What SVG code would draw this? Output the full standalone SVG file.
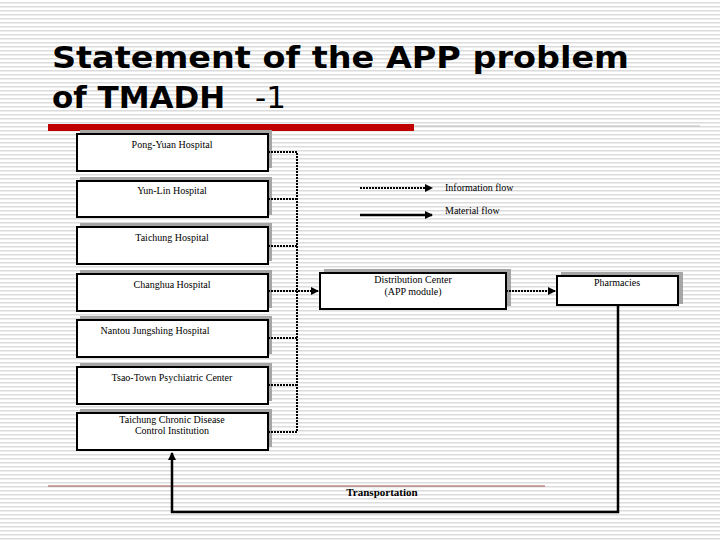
<svg xmlns="http://www.w3.org/2000/svg" width="720" height="540" viewBox="0 0 720 540">
<defs>
<pattern id="stripes" width="4" height="4" patternUnits="userSpaceOnUse"><rect width="4" height="4" fill="#fff"/><rect y="2" width="4" height="1.5" fill="#dcdcdc"/></pattern>
<marker id="ah" markerWidth="8" markerHeight="8" refX="7" refY="4" orient="auto" markerUnits="userSpaceOnUse"><path d="M0,0 L8,4 L0,8 Z" fill="#000"/></marker>
</defs>
<style>
.sh{fill:#a6a6a6}
.bx{fill:#fff;stroke:#000;stroke-width:2}
.t{font-family:"Liberation Serif",serif;font-size:10px;fill:#000;text-anchor:middle}
.dot{fill:none;stroke:#000;stroke-width:2;stroke-dasharray:2,1}
.sol{fill:none;stroke:#000;stroke-width:2.5}
</style>
<rect width="720" height="540" fill="url(#stripes)"/>
<text x="52" y="68" font-family="DejaVu Sans,sans-serif" font-weight="bold" font-size="31" fill="#000" textLength="577" lengthAdjust="spacingAndGlyphs">Statement of the APP problem</text>
<text x="52" y="108" font-family="DejaVu Sans,sans-serif" font-size="31" fill="#000"><tspan font-weight="bold">of TMADH </tspan><tspan x="255">-1</tspan></text>
<rect x="48" y="124" width="366" height="7" fill="#c00000"/>
<line x1="414" y1="126" x2="700" y2="126" stroke="#bbb" stroke-width="1"/>
<line x1="48" y1="486" x2="545" y2="486" stroke="#a05050" stroke-width="1"/>

<g id="n1"><rect class="sh" x="80" y="130" width="192" height="38"/><rect class="bx" x="77" y="134" width="191" height="37"/><text class="t" x="172" y="148">Pong-Yuan Hospital</text></g>
<g id="n2"><rect class="sh" x="80" y="177" width="192" height="38"/><rect class="bx" x="77" y="181" width="191" height="36"/><text class="t" x="172" y="194">Yun-Lin Hospital</text></g>
<g id="n3"><rect class="sh" x="80" y="223" width="192" height="38"/><rect class="bx" x="77" y="227" width="191" height="37"/><text class="t" x="172" y="241">Taichung Hospital</text></g>
<g id="n4"><rect class="sh" x="80" y="270" width="192" height="38"/><rect class="bx" x="77" y="274" width="191" height="37"/><text class="t" x="172" y="288">Changhua Hospital</text></g>
<g id="n5"><rect class="sh" x="80" y="316" width="192" height="38"/><rect class="bx" x="77" y="320" width="191" height="37"/><text class="t" x="155" y="334">Nantou Jungshing Hospital</text></g>
<g id="n6"><rect class="sh" x="80" y="363" width="192" height="38"/><rect class="bx" x="77" y="367" width="191" height="37"/><text class="t" x="172" y="381">Tsao-Town Psychiatric Center</text></g>
<g id="n7"><rect class="sh" x="80" y="409" width="192" height="38"/><rect class="bx" x="77" y="413" width="191" height="37"/><text class="t" x="172" y="423">Taichung Chronic Disease</text><text class="t" x="172" y="434">Control Institution</text></g>
<g id="dc"><rect class="sh" x="324" y="269" width="187" height="37"/><rect class="bx" x="320" y="273" width="186" height="36"/><text class="t" x="413" y="283">Distribution Center</text><text class="t" x="413" y="295">(APP module)</text></g>
<g id="ph"><rect class="sh" x="561" y="272" width="122" height="32"/><rect class="bx" x="557" y="276" width="121" height="29"/><text class="t" x="617" y="286">Pharmacies</text></g>

<g id="legend">
<line class="dot" x1="360" y1="188" x2="432" y2="188" marker-end="url(#ah)"/>
<line class="sol" x1="360" y1="215" x2="432" y2="215" marker-end="url(#ah)"/>
<text class="t" x="445" y="191" style="text-anchor:start">Information flow</text>
<text class="t" x="445" y="214" style="text-anchor:start">Material flow</text>
</g>

<g id="connectors">
<path class="dot" d="M268,152 H297 V432 M268,199 H297 M268,246 H297 M268,338 H297 M268,385 H297 M268,432 H297"/>
<line class="dot" x1="268" y1="291" x2="318" y2="291" marker-end="url(#ah)"/>
<line class="dot" x1="506" y1="291" x2="555" y2="291" marker-end="url(#ah)"/>
<path class="sol" d="M618,305 V512 H172 V453" marker-end="url(#ah)"/>
</g>
<text x="382" y="496" font-family="Liberation Serif,serif" font-weight="bold" font-size="11" text-anchor="middle">Transportation</text>
</svg>
